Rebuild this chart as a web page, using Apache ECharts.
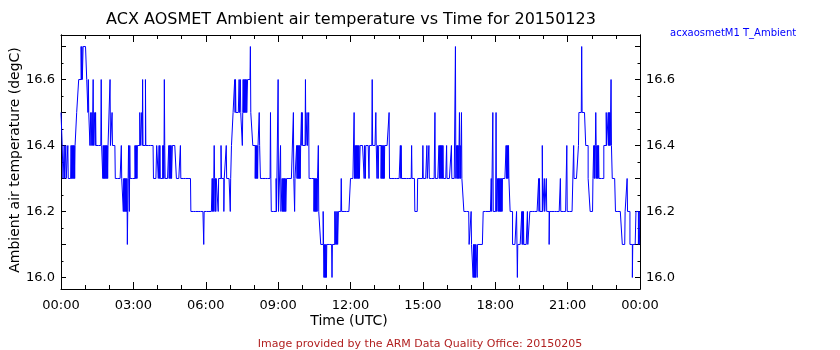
<!DOCTYPE html>
<html><head><meta charset="utf-8">
<script src="https://cdn.jsdelivr.net/npm/echarts@6/dist/echarts.min.js"></script>
<style>html,body{margin:0;padding:0;background:#fff}#c{width:840px;height:350px}</style>
</head><body><div id="c"></div>
<script>
// Base level segments: start minute (UTC, from 00:00) and temperature (degC)
const levelStart = [0,3,5,35,39,44,55,64,67,72,135,155,172,190,230,238,242,277,287,323,376,424,428,464,471,472,477,496,523,561,596,617,641,646,690,720,744,817,880,887,1002,1015,1050,1098,1117,1123,1166,1276,1287,1288,1305,1311,1316,1323,1350,1371,1379,1396,1403,1415,1430,1436];
const levelValue = [16.5,16.4,16.3,16.4,16.5,16.6,16.7,16.6,16.5,16.4,16.3,16.2,16.3,16.4,16.3,16.4,16.3,16.4,16.3,16.2,16.3,16.4,16.5,16.6,16.7,16.5,16.4,16.3,16.2,16.3,16.4,16.3,16.2,16.1,16.2,16.3,16.4,16.3,16.2,16.3,16.2,16.1,16.2,16.3,16.2,16.1,16.2,16.3,16.4,16.5,16.4,16.3,16.2,16.3,16.4,16.3,16.2,16.1,16.2,16.1,16.2,16.1];
// One-minute excursions from the base level
const spikeMinute = [8,12,17,25,27,29,31,33,50,52,68,74,77,80,84,86,100,104,106,108,110,112,114,116,122,127,150,156,158,160,162,164,165,167,168,169,171,184,186,188,196,201,203,210,244,246,253,255,257,258,268,270,272,274,297,355,377,379,381,383,385,391,398,405,411,421,432,434,443,446,451,453,455,457,459,461,483,485,487,489,493,521,535,540,546,550,552,554,556,558,578,581,586,588,590,592,594,598,600,608,612,616,629,631,633,635,637,640,652,654,656,658,660,674,681,684,687,697,729,731,733,735,737,739,741,754,757,766,774,783,786,789,796,798,800,802,804,816,844,846,872,900,910,915,930,940,942,944,946,948,950,959,971,981,984,986,988,991,993,995,996,1020,1025,1027,1029,1031,1035,1070,1074,1082,1086,1088,1090,1092,1094,1096,1107,1109,1111,1113,1133,1135,1146,1148,1150,1160,1188,1190,1197,1202,1207,1214,1242,1258,1275,1295,1325,1327,1329,1330,1331,1333,1335,1337,1356,1361,1363,1365,1368,1408,1421,1432,1434,1438];
const spikeValue = [16.4,16.4,16.4,16.4,16.4,16.4,16.4,16.4,16.7,16.7,16.6,16.5,16.5,16.6,16.5,16.5,16.6,16.3,16.3,16.3,16.3,16.3,16.3,16.3,16.6,16.5,16.4,16.3,16.3,16.3,16.3,16.3,16.1,16.3,16.4,16.3,16.4,16.4,16.4,16.4,16.5,16.5,16.6,16.6,16.4,16.4,16.4,16.4,16.6,16.4,16.4,16.4,16.4,16.4,16.4,16.1,16.2,16.2,16.4,16.2,16.2,16.2,16.4,16.2,16.4,16.2,16.6,16.6,16.6,16.6,16.4,16.6,16.6,16.6,16.6,16.6,16.3,16.3,16.3,16.3,16.5,16.5,16.3,16.6,16.4,16.3,16.3,16.3,16.3,16.3,16.5,16.2,16.4,16.4,16.4,16.4,16.4,16.5,16.5,16.6,16.5,16.5,16.2,16.2,16.2,16.2,16.2,16.4,16.2,16.0,16.0,16.0,16.0,16.0,16.2,16.2,16.2,16.3,16.5,16.4,16.4,16.4,16.4,16.4,16.4,16.3,16.3,16.3,16.6,16.5,16.3,16.3,16.3,16.3,16.3,16.3,16.3,16.5,16.4,16.4,16.4,16.4,16.4,16.4,16.5,16.4,16.4,16.4,16.4,16.4,16.4,16.4,16.4,16.7,16.4,16.4,16.4,16.5,16.4,16.4,16.5,16.2,16.0,16.0,16.0,16.0,16.0,16.3,16.5,16.5,16.3,16.3,16.3,16.3,16.3,16.3,16.4,16.4,16.4,16.4,16.2,16.0,16.2,16.2,16.2,16.2,16.3,16.3,16.4,16.3,16.3,16.1,16.3,16.4,16.4,16.7,16.4,16.4,16.4,16.5,16.4,16.4,16.4,16.4,16.5,16.5,16.5,16.5,16.6,16.3,16.0,16.2,16.2,16.2];
const xTickLabels = ['00:00','03:00','06:00','09:00','12:00','15:00','18:00','21:00','00:00'];
const yLabelValues = [16.0,16.2,16.4,16.6];
const yMajorTicks = [16.0,16.1,16.2,16.3,16.4,16.5,16.6,16.7];
const yMinorTicks = [16.05,16.15,16.25,16.35,16.45,16.55,16.65];

// build 1-minute series
const series = [];
let seg = 0;
const spikeMap = {};
spikeMinute.forEach((m,i)=>{spikeMap[m]=spikeValue[i];});
for (let m = 0; m < 1440; m++) {
  while (seg + 1 < levelStart.length && levelStart[seg+1] <= m) seg++;
  const v = (m in spikeMap) ? spikeMap[m] : levelValue[seg];
  series.push([m, v]);
}
series.push([1440, series[series.length-1][1]]);

const FONT = 'DejaVu Sans';
const chart = echarts.init(document.getElementById('c'), null, {renderer:'canvas'});
const axLine = {show:true, lineStyle:{color:'#000', width:1}};
function yAx(pos, ticks, len, labels){
  return {type:'value', position:pos, min:15.965, max:16.735,
    axisLine:axLine, splitLine:{show:false},
    axisTick:{show:true, inside:true, length:len, customValues:ticks, lineStyle:{color:'#000'}},
    axisLabel: labels ? {show:true, customValues:yLabelValues, color:'#000', fontFamily:FONT, fontSize:13, margin:6, formatter:v=>v.toFixed(1)} : {show:false}
  };
}
function xAx(pos, labels){
  return {type:'value', position:pos, min:0, max:1440, interval:180,
    axisLine:axLine, splitLine:{show:false},
    axisTick:{show:true, inside:true, length:7, lineStyle:{color:'#000'}},
    minorTick:{show:true, splitNumber:3, length:4, lineStyle:{color:'#000'}},
    axisLabel: labels ? {show:true, color:'#000', fontFamily:FONT, fontSize:13, margin:10,
      formatter:v=>xTickLabels[Math.round(v/180)]} : {show:false}
  };
}
chart.setOption({
  animation:false,
  backgroundColor:'#fff',
  grid:{left:61, right:200, top:35, bottom:61, containLabel:false},
  xAxis:[xAx('bottom', true), xAx('top', false)],
  yAxis:[yAx('left', yMajorTicks, 5, true), yAx('left', yMinorTicks, 2.5, false),
         yAx('right', yMajorTicks, 5, true), yAx('right', yMinorTicks, 2.5, false)],
  series:[{type:'line', data:series, step:'end', showSymbol:false, symbol:'none',
    xAxisIndex:0, yAxisIndex:0, lineStyle:{color:'#0000ff', width:1}}],
  graphic:[
    {type:'text', style:{text:'ACX AOSMET Ambient air temperature vs Time for 20150123', x:351, y:20, align:'center', verticalAlign:'middle', fill:'#000', font:'16px "DejaVu Sans"'}},
    {type:'text', style:{text:'acxaosmetM1 T_Ambient', x:670, y:33, align:'left', verticalAlign:'middle', fill:'#0000ff', font:'10px "DejaVu Sans"'}},
    {type:'text', style:{text:'Time (UTC)', x:349, y:321, align:'center', verticalAlign:'middle', fill:'#000', font:'14px "DejaVu Sans"'}},
    {type:'text', style:{text:'Image provided by the ARM Data Quality Office: 20150205', x:420, y:344, align:'center', verticalAlign:'middle', fill:'#b22222', font:'11px "DejaVu Sans"'}},
    {type:'text', rotation:Math.PI/2, x:15, y:160, style:{text:'Ambient air temperature (degC)', x:0, y:0, align:'center', verticalAlign:'middle', fill:'#000', font:'14px "DejaVu Sans"'}}
  ]
});
</script></body></html>
